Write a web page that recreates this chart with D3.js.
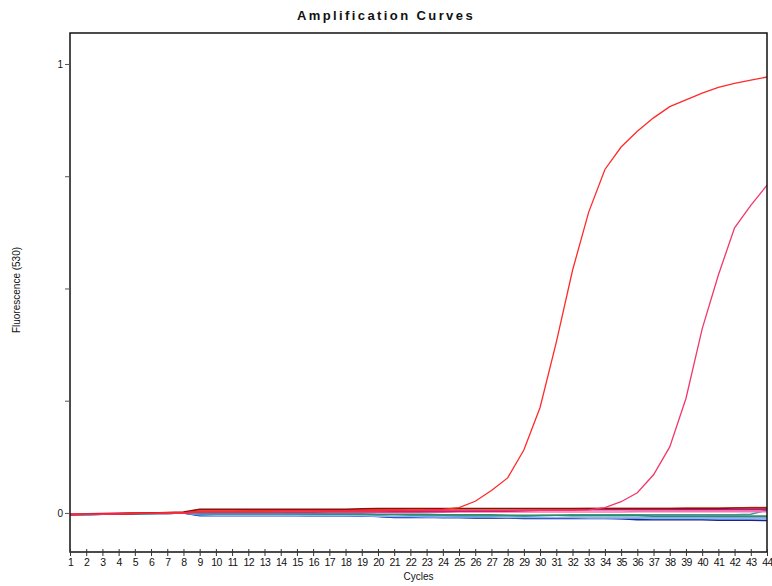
<!DOCTYPE html>
<html>
<head>
<meta charset="utf-8">
<script src="https://cdn.jsdelivr.net/npm/d3@7"></script>
<style>
  body { margin: 0; background: #fff; }
  text { font-family: "Liberation Sans", Arial, sans-serif; fill: #111; }
</style>
</head>
<body>
<div id="container"></div>
<script>
/* CONSTANTS AND GLOBALS */
const width = 772,
  height = 586,
  margin = { top: 33, bottom: 34, left: 70, right: 5 }

/* DATA */
const cycles = d3.range(1, 45)
const yTicks = [0, 0.25, 0.5, 0.75, 1]
const yTickLabels = { 0: "0", 1: "1" }

const seriesNames = ["navy", "blue", "lightblue", "teal", "green", "pink", "magenta", "orange", "darkred", "sample2", "sample1"]
const seriesColors = ["#1a237e", "#2040d0", "#8ab8ff", "#3a9aa0", "#2f8f5f", "#ff70b0", "#c0108a", "#e06020", "#8b1010", "#f0386a", "#ff2a2a"]

const navy = [
  -0.004,-0.004,-0.003,-0.003,-0.002,-0.001,-0.001,0,-0.005,-0.005,-0.005,
  -0.005,-0.005,-0.005,-0.005,-0.006,-0.006,-0.006,-0.006,-0.008,-0.010,-0.010,
  -0.010,-0.010,-0.010,-0.011,-0.011,-0.011,-0.012,-0.012,-0.012,-0.012,-0.012,
  -0.012,-0.013,-0.015,-0.015,-0.015,-0.015,-0.015,-0.016,-0.016,-0.016,-0.017]
const blue = [
  -0.004,-0.004,-0.003,-0.002,-0.002,-0.001,-0.001,0,-0.006,-0.006,-0.006,
  -0.006,-0.006,-0.006,-0.006,-0.006,-0.006,-0.006,-0.007,-0.007,-0.009,-0.009,
  -0.009,-0.010,-0.010,-0.010,-0.010,-0.010,-0.010,-0.011,-0.011,-0.011,-0.011,
  -0.011,-0.012,-0.012,-0.012,-0.012,-0.012,-0.012,-0.012,-0.012,-0.012,-0.012]
const lightblue = [
  -0.005,-0.004,-0.003,-0.002,-0.002,-0.001,-0.001,0,-0.004,-0.005,-0.005,
  -0.005,-0.005,-0.005,-0.005,-0.006,-0.006,-0.006,-0.006,-0.007,-0.008,-0.008,
  -0.009,-0.009,-0.009,-0.009,-0.009,-0.010,-0.010,-0.010,-0.010,-0.010,-0.011,
  -0.011,-0.011,-0.011,-0.012,-0.012,-0.012,-0.012,-0.013,-0.013,-0.013,-0.013]
const teal = [
  -0.004,-0.003,-0.003,-0.002,-0.001,-0.001,0,0,-0.002,-0.002,-0.002,
  -0.002,-0.002,-0.002,-0.003,-0.003,-0.003,-0.003,-0.003,-0.004,-0.004,-0.005,
  -0.005,-0.005,-0.006,-0.006,-0.006,-0.006,-0.007,-0.006,-0.005,-0.004,-0.004,
  -0.004,-0.004,-0.004,-0.004,-0.004,-0.004,-0.004,-0.004,-0.004,-0.003,0.006]
const green = [
  -0.003,-0.003,-0.002,-0.002,-0.001,-0.001,0,0,-0.001,-0.001,-0.001,
  -0.001,-0.001,-0.001,-0.001,-0.002,-0.002,-0.002,-0.002,-0.003,-0.003,-0.003,
  -0.003,-0.004,-0.004,-0.004,-0.004,-0.005,-0.005,-0.005,-0.005,-0.006,-0.006,
  -0.006,-0.006,-0.006,-0.007,-0.007,-0.007,-0.007,-0.007,-0.007,-0.007,-0.007]
const pink = [
  -0.002,-0.002,-0.001,-0.001,0,0,0,0,0.001,0.001,0.001,
  0.001,0.001,0.001,0.001,0.001,0.001,0.001,0.001,0.001,0.001,0.001,
  0.002,0.002,0.002,0.002,0.002,0.002,0.002,0.002,0.002,0.002,0.002,
  0.002,0.002,0.003,0.003,0.003,0.003,0.003,0.003,0.003,0.003,0.003]
const magenta = [
  -0.003,-0.003,-0.002,-0.001,-0.001,0,0,0,0.002,0.002,0.002,
  0.002,0.002,0.002,0.002,0.002,0.003,0.003,0.003,0.003,0.003,0.003,
  0.003,0.003,0.004,0.004,0.004,0.004,0.005,0.006,0.007,0.007,0.007,
  0.007,0.007,0.007,0.007,0.007,0.007,0.007,0.007,0.007,0.007,0.007]
const orange = [
  -0.004,-0.003,-0.003,-0.002,-0.001,0,0,0.001,0.004,0.004,0.004,
  0.005,0.005,0.005,0.005,0.005,0.006,0.006,0.007,0.008,0.008,0.009,
  0.009,0.009,0.009,0.009,0.009,0.009,0.009,0.009,0.009,0.009,0.010,
  0.010,0.010,0.010,0.010,0.010,0.011,0.011,0.011,0.011,0.012,0.012]
const darkred = [
  -0.004,-0.003,-0.002,-0.002,-0.001,0,0.001,0.002,0.008,0.008,0.008,
  0.008,0.008,0.008,0.008,0.008,0.008,0.008,0.009,0.010,0.010,0.010,
  0.010,0.010,0.010,0.010,0.010,0.010,0.010,0.010,0.010,0.010,0.010,
  0.010,0.010,0.010,0.010,0.010,0.010,0.010,0.010,0.011,0.011,0.011]
const sample2 = [
  -0.004,-0.003,-0.003,-0.002,-0.001,-0.001,0,0,0.003,0.003,0.003,
  0.003,0.003,0.003,0.004,0.004,0.004,0.004,0.004,0.004,0.005,0.005,
  0.005,0.005,0.005,0.005,0.005,0.005,0.006,0.006,0.006,0.006,0.007,
  0.012,0.025,0.045,0.085,0.147,0.255,0.41,0.53,0.635,0.685,0.73]
const sample1 = [
  -0.003,-0.003,-0.002,-0.002,-0.001,-0.001,0,0,0.004,0.004,0.004,
  0.004,0.004,0.005,0.005,0.005,0.005,0.005,0.006,0.006,0.006,0.006,
  0.007,0.008,0.012,0.026,0.05,0.078,0.14,0.235,0.38,0.54,0.67,
  0.765,0.815,0.85,0.88,0.905,0.92,0.935,0.948,0.957,0.964,0.971]

const seriesValues = [navy, blue, lightblue, teal, green, pink, magenta, orange, darkred, sample2, sample1]

// SCALES
const xScale = d3.scaleLinear()
  .domain([1, 44])
  .range([margin.left, width - margin.right])

const yScale = d3.scaleLinear()
  .domain([-0.087, 1.069])
  .range([height - margin.bottom, margin.top])

// CREATE SVG ELEMENT
const svg = d3.select("#container")
  .append("svg")
  .attr("width", width)
  .attr("height", height)

// title
svg.append("text")
  .attr("x", 386)
  .attr("y", 20)
  .attr("text-anchor", "middle")
  .attr("font-size", 13)
  .attr("font-weight", "bold")
  .attr("letter-spacing", 2.4)
  .text("Amplification Curves")

// LINES
const line = d3.line()
  .x((d, i) => xScale(cycles[i]))
  .y(d => yScale(d))

svg.append("g")
  .selectAll("path")
  .data(seriesValues)
  .join("path")
  .attr("d", d => line(d))
  .attr("fill", "none")
  .attr("stroke", (d, i) => seriesColors[i])
  .attr("stroke-width", (d, i) => i >= 9 ? 1.3 : 1.6)
  .attr("class", (d, i) => seriesNames[i])

// frame
svg.append("rect")
  .attr("x", margin.left)
  .attr("y", margin.top)
  .attr("width", width - margin.left - margin.right)
  .attr("height", height - margin.top - margin.bottom)
  .attr("fill", "none")
  .attr("stroke", "#111")
  .attr("stroke-width", 1.5)

// AXES
const xAxis = d3.axisBottom(xScale)
  .tickValues(cycles)
  .tickSize(4)
  .tickFormat(d3.format("d"))

const xg = svg.append("g")
  .attr("transform", `translate(0,${height - margin.bottom})`)
  .call(xAxis)
xg.select(".domain").remove()
xg.selectAll(".tick line").attr("y1", -3).attr("stroke", "#333")
xg.selectAll("text")
  .attr("y", 7)
  .attr("font-size", 10.5)
  .attr("letter-spacing", -0.6)
  .attr("font-family", "Liberation Sans, Arial, sans-serif")
  .attr("fill", "#111")

const yAxis = d3.axisLeft(yScale)
  .tickValues(yTicks)
  .tickSize(5)
  .tickFormat(d => yTickLabels[d] || "")

const yg = svg.append("g")
  .attr("transform", `translate(${margin.left},0)`)
  .call(yAxis)
yg.select(".domain").remove()
yg.selectAll(".tick line").attr("stroke", "#555")
yg.selectAll("text")
  .attr("x", -7)
  .attr("font-size", 10)
  .attr("font-family", "Liberation Sans, Arial, sans-serif")
  .attr("fill", "#111")

// axis labels
svg.append("text")
  .attr("x", (margin.left + width - margin.right) / 2)
  .attr("y", 580)
  .attr("text-anchor", "middle")
  .attr("font-size", 10)
  .text("Cycles")

svg.append("text")
  .attr("transform", "translate(20,290) rotate(-90)")
  .attr("text-anchor", "middle")
  .attr("font-size", 10)
  .text("Fluorescence (530)")
</script>
</body>
</html>
